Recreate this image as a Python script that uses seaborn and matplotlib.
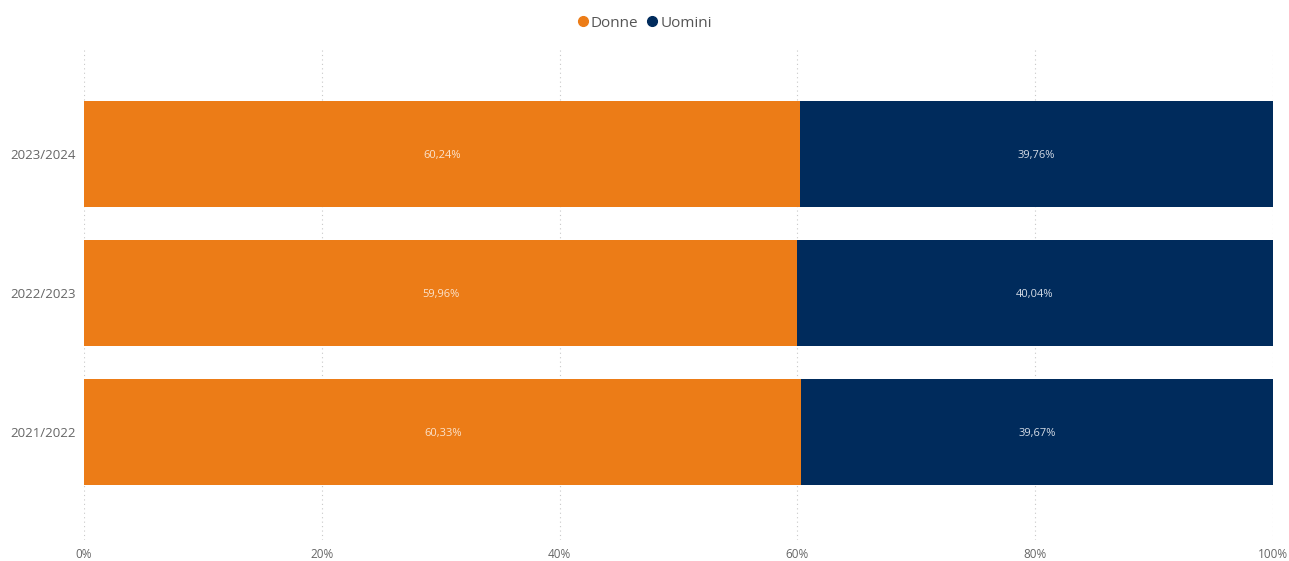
import numpy as np
import pandas as pd

import matplotlib
matplotlib.use("Agg")

import matplotlib.pyplot as plt
import seaborn as sns
from matplotlib.lines import Line2D


sns.set_style("white")
plt.rcParams["font.family"] = ["Open Sans", "DejaVu Sans"]

years = ["2023/2024", "2022/2023", "2021/2022"]
donne = [60.24, 59.96, 60.33]
uomini = [39.76, 40.04, 39.67]
ticks = [0, 20, 40, 60, 80, 100]

ORANGE = "#EC7C17"
NAVY = "#002B5C"


def fmt(v):
    return f"{v:.2f}%".replace(".", ",")


def main():
    df = pd.DataFrame({"anno": years, "donne": donne, "uomini": uomini})
    df["totale"] = df["donne"] + df["uomini"]

    fig = plt.figure(figsize=(12.89, 5.61), dpi=100)
    ax = fig.add_axes([0.0652, 0.0374, 0.9224, 0.877])

    sns.barplot(data=df, y="anno", x="totale", color=NAVY, orient="h",
                width=0.763, saturation=1, linewidth=0, ax=ax)
    sns.barplot(data=df, y="anno", x="donne", color=ORANGE, orient="h",
                width=0.763, saturation=1, linewidth=0, ax=ax)

    for i, row in df.iterrows():
        ax.text(row["donne"] / 2, i + 0.01, fmt(row["donne"]), ha="center", va="center",
                color="#FBE3CC", fontsize=8)
        ax.text(row["donne"] + row["uomini"] / 2, i + 0.01, fmt(row["uomini"]),
                ha="center", va="center", color="#D5DCE6", fontsize=8)

    ax.set_xlim(0, 100)
    ax.set_ylim(2.777, -0.763)
    ax.set_xticks(ticks)
    ax.set_xticklabels([f"{t}%" for t in ticks])
    ax.set_xlabel("")
    ax.set_ylabel("")
    ax.tick_params(axis="x", colors="#666666", labelsize=8.5, length=0, pad=6)
    ax.tick_params(axis="y", colors="#666666", labelsize=9.5, length=0, pad=6)
    ax.xaxis.grid(True, linestyle=(0, (1, 3)), color="#C8C8C8", linewidth=0.8)
    ax.set_axisbelow(True)
    sns.despine(ax=ax, left=True, bottom=True)

    handles = [
        Line2D([], [], marker="o", linestyle="", color=ORANGE, markersize=7),
        Line2D([], [], marker="o", linestyle="", color=NAVY, markersize=7),
    ]
    fig.legend(handles, ["Donne", "Uomini"], loc="center", bbox_to_anchor=(0.5, 0.959),
               ncol=2, frameon=False, fontsize=11, handlelength=0.7,
               handletextpad=0.15, columnspacing=0.6, labelcolor="#555555")

    fig.savefig("out.png", dpi=100)
    plt.close(fig)


if __name__ == "__main__":
    main()
